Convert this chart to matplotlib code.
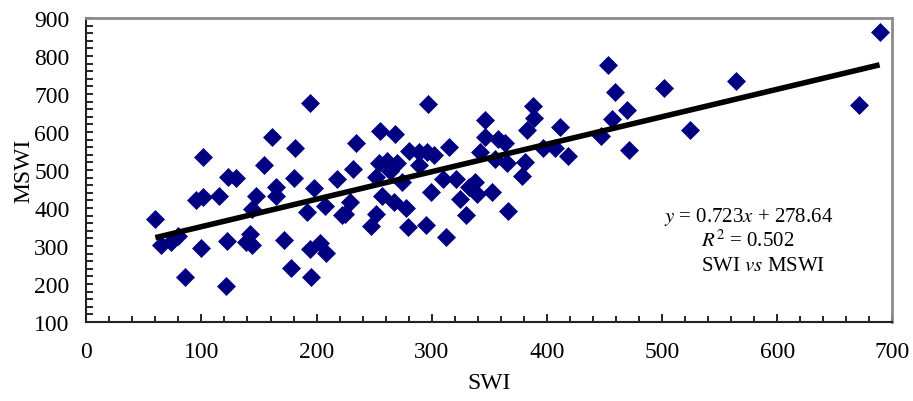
import numpy as np
import matplotlib
matplotlib.use('Agg')
import matplotlib.pyplot as plt
from matplotlib.ticker import MultipleLocator

plt.rcParams['font.family'] = ['Liberation Serif', 'DejaVu Serif']
plt.rcParams['mathtext.fontset'] = 'stix'

swi = [60, 65, 74, 80, 86, 95, 100, 101, 101, 115, 121, 122, 123, 130, 139, 142, 144,
       144, 147, 154, 161, 165, 165, 172, 178, 180, 181, 192, 194, 195, 194, 198, 203,
       207, 208, 218, 222,
       225, 229, 232, 234, 247, 252, 252, 254, 255, 257, 261, 264, 267, 268, 270, 274,
       278, 279, 280, 289, 289, 295, 296, 297, 299, 302, 310, 312, 315,
       321, 325, 330, 332, 338, 339, 342, 346, 346, 352, 355, 358, 364, 365, 366, 378,
       381, 383, 388, 389, 397, 407, 411, 418, 447, 453, 457, 459, 470, 471, 502, 524,
       564, 671, 689]
mswi = [371, 303, 311, 327, 218, 421, 295, 533, 428, 431, 196, 314, 482, 478, 310, 332, 302,
        397, 431, 514, 586, 454, 432, 317, 242, 478, 558, 389, 676, 218, 292, 452, 308,
        404, 281, 477, 382,
        384, 415, 503, 571, 352, 384, 481, 518, 603, 432, 525, 498, 415, 595, 518, 468,
        400, 349, 551, 547, 513, 355, 547, 674, 441, 539, 476, 323, 560,
        476, 424, 382, 454, 468, 437, 548, 632, 586, 441, 529, 582, 572, 518, 393, 485,
        520, 604, 669, 636, 558, 558, 612, 538, 589, 777, 634, 704, 659, 553, 716, 605,
        735, 672, 864]

slope = 0.723
intercept = 278.64
r2 = 0.502

fig = plt.figure(figsize=(9.13, 4.02), dpi=100)
ax = fig.add_axes([0.0945, 0.1965, 0.8828, 0.7562])

ax.plot(swi, mswi, 'D', color='#000080', markersize=9, markeredgewidth=0.5, zorder=2)

xf = np.array([min(swi), max(swi)])
ax.plot(xf, slope * xf + intercept, '-', color='black', linewidth=4, zorder=3,
        solid_capstyle='butt')

ax.set_xlim(0, 700)
ax.set_ylim(100, 900)
ax.xaxis.set_major_locator(MultipleLocator(100))
ax.xaxis.set_minor_locator(MultipleLocator(20))
ax.yaxis.set_major_locator(MultipleLocator(100))
ax.yaxis.set_minor_locator(MultipleLocator(20))

ax.tick_params(axis='both', which='both', direction='in', labelsize=17, width=1.2,
               color='black', top=False, right=False)
ax.tick_params(axis='x', which='major', length=6, pad=14)
ax.tick_params(axis='x', which='minor', length=4.5)
ax.tick_params(axis='y', which='major', length=5, pad=12)
ax.tick_params(axis='y', which='minor', length=5)

ax.spines['left'].set_color('#222222')
ax.spines['bottom'].set_color('#222222')
ax.spines['left'].set_linewidth(1.5)
ax.spines['bottom'].set_linewidth(1.5)
ax.spines['top'].set_color('#8c8c8c')
ax.spines['right'].set_color('#8c8c8c')
ax.spines['top'].set_linewidth(2)
ax.spines['right'].set_linewidth(2)

ax.set_xlabel('SWI', fontsize=17, labelpad=7)
ax.set_ylabel('MSWI', fontsize=17, labelpad=0)

ax.text(0.717, 0.35, '$y$ = {:.3f}$x$ + {:.2f}'.format(slope, intercept),
        transform=ax.transAxes, fontsize=15, va='center', ha='left')
ax.text(0.763, 0.271, '$R^2$ = {:.3f}'.format(r2),
        transform=ax.transAxes, fontsize=15, va='center', ha='left')
ax.text(0.763, 0.1875, 'SWI $vs$ MSWI',
        transform=ax.transAxes, fontsize=15, va='center', ha='left')

fig.savefig('out.png', dpi=100)
